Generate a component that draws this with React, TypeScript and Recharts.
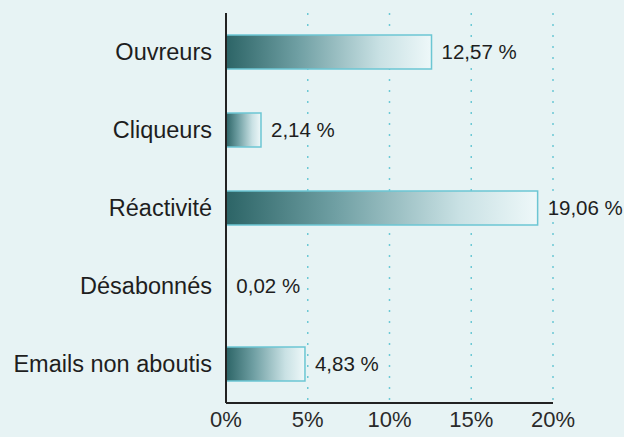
import React from "react";
import { BarChart, Bar, XAxis, YAxis, CartesianGrid, LabelList } from "recharts";

const categories = ["Ouvreurs", "Cliqueurs", "Réactivité", "Désabonnés", "Emails non aboutis"];
const values = [12.57, 2.14, 19.06, 0.02, 4.83];
const valueLabels = ["12,57 %", "2,14 %", "19,06 %", "0,02 %", "4,83 %"];
const xTicks = [0, 5, 10, 15, 20];

const data = categories.map((c, i) => ({ name: c, value: values[i], label: valueLabels[i] }));

const FONT = "'Liberation Sans', Arial, sans-serif";

export default function App() {
  return (
    <div style={{ width: 624, height: 437, background: "#e7f3f4", fontFamily: FONT }}>
      <style>{`body{margin:0}`}</style>
      <BarChart
        width={624}
        height={437}
        data={data}
        layout="vertical"
        margin={{ top: 13, right: 71, left: 0, bottom: 0 }}
        barCategoryGap={0}
      >
        <defs>
          <linearGradient id="barGrad" x1="0" y1="0" x2="1" y2="0">
            <stop offset="0%" stopColor="#2c6466" />
            <stop offset="35%" stopColor="#6f9fa3" />
            <stop offset="75%" stopColor="#c9e1e4" />
            <stop offset="100%" stopColor="#eef8f9" />
          </linearGradient>
        </defs>
        <CartesianGrid horizontal={false} vertical stroke="#6cc8d4" strokeDasharray="2 9" strokeWidth={1.5} />
        <XAxis
          type="number"
          domain={[0, 20]}
          ticks={xTicks}
          tickFormatter={(v) => `${v}%`}
          height={34}
          axisLine={{ stroke: "#222", strokeWidth: 2 }}
          tickLine={false}
          tickSize={0}
          tickMargin={8}
          tick={{ fill: "#2a2a2a", fontSize: 22, fontFamily: FONT }}
          interval={0}
        />
        <YAxis
          type="category"
          dataKey="name"
          width={226}
          axisLine={{ stroke: "#222", strokeWidth: 2 }}
          tickLine={false}
          tickSize={0}
          tickMargin={14}
          tick={{ fill: "#1e1e1e", fontSize: 23.5, fontFamily: FONT }}
          interval={0}
        />
        <Bar
          dataKey="value"
          barSize={34}
          fill="url(#barGrad)"
          stroke="#6cc6d3"
          strokeWidth={1.5}
          isAnimationActive={false}
        >
          <LabelList
            dataKey="label"
            position="right"
            offset={10}
            style={{ fill: "#1e1e1e", fontSize: 20.5, fontFamily: FONT }}
          />
        </Bar>
      </BarChart>
    </div>
  );
}
